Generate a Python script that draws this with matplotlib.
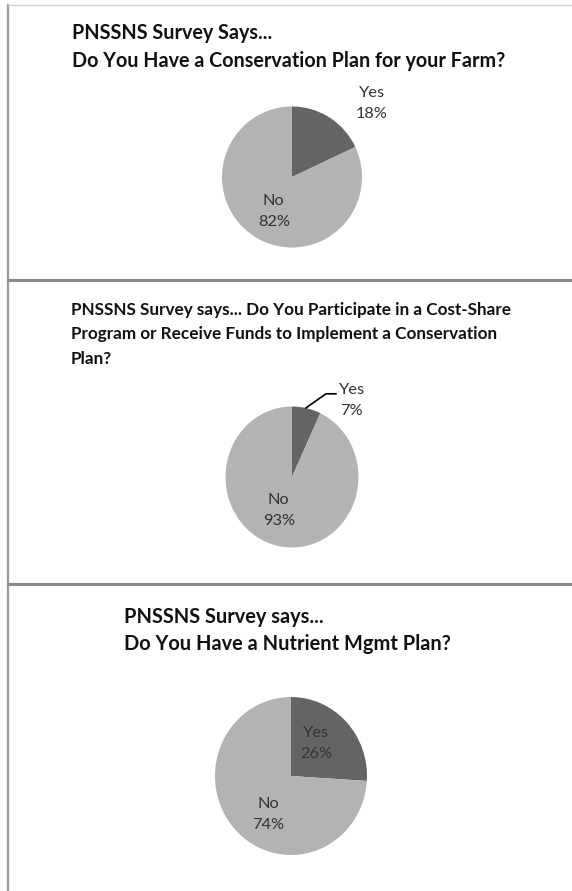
import matplotlib
matplotlib.use('Agg')
import matplotlib.pyplot as plt
from matplotlib.lines import Line2D

# Du lieu khao sat
categories = ['Yes', 'No']
conservation_plan = [18, 82]
cost_share = [7, 93]
nutrient_plan = [26, 74]

title1 = ['PNSSNS Survey Says...', 'Do You Have a Conservation Plan for your Farm?']
title2 = ['PNSSNS Survey says... Do You Participate in a Cost-Share',
          'Program or Receive Funds to Implement a Conservation',
          'Plan?']
title3 = ['PNSSNS Survey says...', 'Do You Have a Nutrient Mgmt Plan?']

colors = ['#646464', '#b3b3b3']
W, H = 572, 891

plt.rcParams['font.family'] = ['Lato', 'DejaVu Sans']
fig = plt.figure(figsize=(W / 100, H / 100), dpi=100)


def fx(x):
    return x / W


def fy(y):
    return 1 - y / H


def pie_axes(cx, cy, rx, ry):
    ax = fig.add_axes([fx(cx - rx), fy(cy + ry), 2 * rx / W, 2 * ry / H])
    return ax


def draw_pie(ax, values, label_pos):
    ax.pie(values, colors=colors, startangle=90, counterclock=False,
           wedgeprops=dict(linewidth=0))
    ax.set_aspect('auto')
    ax.set_xlim(-1, 1)
    ax.set_ylim(-1, 1)
    ax.axis('off')
    for cat, v, (dx, dy) in zip(categories, values, label_pos):
        ax.text(dx, dy, '%s\n%d%%' % (cat, v), ha='center', va='center',
                fontsize=11.8, color='#333333', linespacing=1.65)


def draw_title(lines, x, y0, step, size):
    for i, t in enumerate(lines):
        fig.text(fx(x), fy(y0 + i * step), t, ha='left', va='center',
                 fontsize=size, fontweight='bold', color='#111111')


# Bieu do 1
draw_title(title1, 72, 33, 28, 14.2)
ax1 = pie_axes(292, 177, 70, 70.5)
draw_pie(ax1, conservation_plan, [(1.14, 1.04), (-0.26, -0.49)])

# Bieu do 2
draw_title(title2, 71, 310, 24.5, 12.3)
ax2 = pie_axes(292, 477, 66.5, 70.5)
draw_pie(ax2, cost_share, [(0.9, 1.08), (-0.2, -0.47)])
ax2.plot([0.21, 0.51, 0.66], [0.98, 1.18, 1.18], color='black', lw=1.2,
         clip_on=False)

# Bieu do 3
draw_title(title3, 124, 617, 27, 14.4)
ax3 = pie_axes(291, 776, 76, 79)
draw_pie(ax3, nutrient_plan, [(0.33, 0.41), (-0.3, -0.49)])

# Khung vien
fig.add_artist(Line2D([fx(8), fx(8)], [fy(5), fy(891)], color='#9a9a9a', lw=1.6))
fig.add_artist(Line2D([fx(8), fx(572)], [fy(5), fy(5)], color='#d0d0d0', lw=1.0))
fig.add_artist(Line2D([fx(8), fx(572)], [fy(280), fy(280)], color='#8a8a8a', lw=2.2))
fig.add_artist(Line2D([fx(8), fx(572)], [fy(584), fy(584)], color='#8a8a8a', lw=2.2))

fig.savefig('out.png', dpi=100)
